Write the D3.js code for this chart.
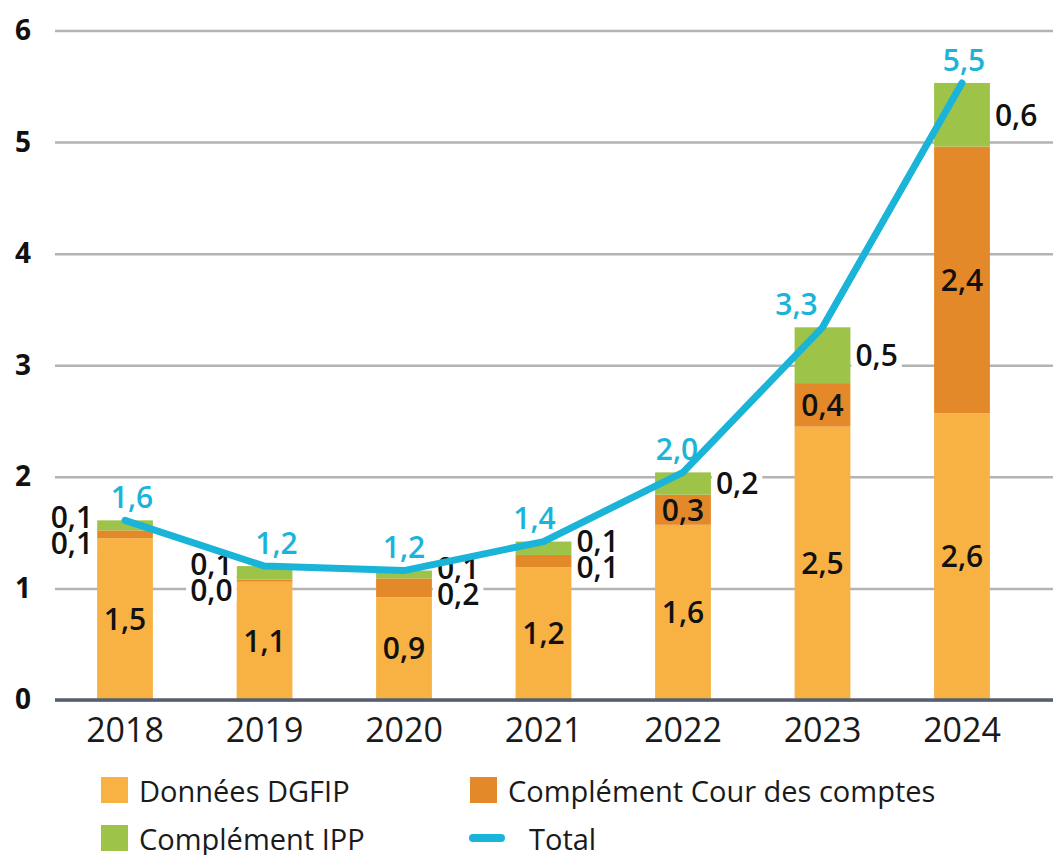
<!DOCTYPE html>
<meta charset="utf-8">
<script src="https://cdnjs.cloudflare.com/ajax/libs/d3/7.8.5/d3.min.js"></script>
<style>
  body { margin: 0; background: #fff; }
  svg, svg text { font-family: "Open Sans", "Noto Sans", sans-serif; }
  svg { display: block; }
</style>
<div id="chart"></div>
<script>
// data
const years = ["2018", "2019", "2020", "2021", "2022", "2023", "2024"];
const dgfip = [1.45, 1.06, 0.92, 1.19, 1.57, 2.45, 2.57];
const cour  = [0.07, 0.02, 0.17, 0.11, 0.27, 0.39, 2.39];
const ipp   = [0.09, 0.12, 0.07, 0.12, 0.20, 0.50, 0.57];
const totals = [1.61, 1.20, 1.16, 1.42, 2.04, 3.34, 5.53];

const dgfipLabels = ["1,5", "1,1", "0,9", "1,2", "1,6", "2,5", "2,6"];
const courLabels  = ["0,1", "0,0", "0,2", "0,1", "0,3", "0,4", "2,4"];
const ippLabels   = ["0,1", "0,1", "0,1", "0,1", "0,2", "0,5", "0,6"];
const totalLabels = ["1,6", "1,2", "1,2", "1,4", "2,0", "3,3", "5,5"];

const yTicks = [0, 1, 2, 3, 4, 5, 6];

// label layout: side of the small labels, horizontal nudge of the total labels
const labelSide = ["left", "left", "right", "right", "right", "right", "right"];
const totalNudge = [7, 12, 0, -9, -6, -26, 2];

const colors = { dgfip: "#f7b243", cour: "#e4892a", ipp: "#9dc349", total: "#1bb4d9" };

const W = 1053, H = 855;
const plotLeft = 55, plotRight = 1053, plotTop = 30.5, plotBottom = 700;

const svg = d3.select("#chart").append("svg")
  .attr("width", W).attr("height", H);

const x = d3.scaleBand()
  .domain(years)
  .range([55.25, 1031.75])
  .paddingInner(0.6)
  .paddingOuter(0.3);

const y = d3.scaleLinear().domain([0, 6]).range([plotBottom, plotTop]);

// gridlines + y labels
const yAxis = svg.append("g")
  .attr("transform", `translate(${plotLeft},0)`)
  .call(d3.axisLeft(y).tickValues(yTicks).tickSize(-(plotRight - plotLeft)).tickPadding(24).tickFormat(d3.format("d")));
yAxis.attr("font-family", null);
yAxis.select(".domain").remove();
yAxis.selectAll(".tick line").attr("stroke", "#b3b3b3").attr("stroke-width", 2.5);
yAxis.selectAll(".tick text")
  .attr("fill", "#111").style("font-size", "28px").style("font-weight", 700);

// stacked rows
const rows = years.map((yr, i) => ({
  year: yr, i,
  segs: [
    { key: "dgfip", y0: 0, y1: dgfip[i], label: dgfipLabels[i] },
    { key: "cour", y0: dgfip[i], y1: dgfip[i] + cour[i], label: courLabels[i] },
    { key: "ipp", y0: dgfip[i] + cour[i], y1: dgfip[i] + cour[i] + ipp[i], label: ippLabels[i] }
  ]
}));

const bars = svg.append("g");
rows.forEach(r => {
  bars.selectAll(null)
    .data(r.segs)
    .enter().append("rect")
      .attr("x", x(r.year))
      .attr("width", x.bandwidth())
      .attr("y", d => y(d.y1))
      .attr("height", d => y(d.y0) - y(d.y1))
      .attr("fill", d => colors[d.key]);
});

// x axis
svg.append("line")
  .attr("x1", plotLeft).attr("x2", plotRight)
  .attr("y1", y(0)).attr("y2", y(0))
  .attr("stroke", "#565f6e").attr("stroke-width", 3.5);

const xAxis = svg.append("g")
  .attr("transform", `translate(0,${y(0)})`)
  .call(d3.axisBottom(x).tickSize(0).tickPadding(18));
xAxis.attr("font-family", null);
xAxis.select(".domain").remove();
xAxis.selectAll(".tick text")
  .attr("fill", "#1a1a1a").style("font-size", "34px").style("font-weight", 400);

// value labels
const fs = 30;
const labels = svg.append("g")
  .style("font-size", fs + "px").style("font-weight", 600).attr("fill", "#111");

rows.forEach(r => {
  const cx = x(r.year) + x.bandwidth() / 2;
  const outside = [];
  r.segs.forEach(s => {
    const h = y(s.y0) - y(s.y1);
    const mid = (y(s.y0) + y(s.y1)) / 2;
    if (s.key === "dgfip" || (s.key === "cour" && h > 25)) {
      labels.append("text")
        .attr("x", cx).attr("y", mid + 0.36 * fs)
        .attr("text-anchor", "middle")
        .text(s.label);
    } else {
      outside.push({ label: s.label, mid });
    }
  });
  // spread stacked small labels so they do not overlap
  if (outside.length === 2) {
    const m = (outside[0].mid + outside[1].mid) / 2;
    outside[0].pos = m + 13;
    outside[1].pos = m - 13;
  } else {
    outside.forEach(o => o.pos = o.mid);
  }
  const side = labelSide[r.i];
  outside.forEach(o => {
    const g = labels.append("g");
    const t = g.append("text")
      .attr("x", side === "right" ? x(r.year) + x.bandwidth() + 5 : x(r.year) - 4)
      .attr("y", o.pos + 0.36 * fs)
      .attr("text-anchor", side === "right" ? "start" : "end")
      .text(o.label);
    const b = t.node().getBBox();
    g.insert("rect", "text")
      .attr("x", b.x - 4).attr("y", o.pos - 12)
      .attr("width", b.width + 8).attr("height", 24)
      .attr("fill", "#fff");
  });
});

// total line
const line = d3.line()
  .x((d, i) => x(years[i]) + x.bandwidth() / 2)
  .y(d => y(d));

svg.append("path")
  .datum(totals)
  .attr("d", line)
  .attr("fill", "none")
  .attr("stroke", colors.total)
  .attr("stroke-width", 7)
  .attr("stroke-linejoin", "round")
  .attr("stroke-linecap", "round");

svg.append("g")
  .style("font-size", fs + "px").style("font-weight", 600).attr("fill", colors.total)
  .selectAll("text")
  .data(totals)
  .enter().append("text")
    .attr("x", (d, i) => x(years[i]) + x.bandwidth() / 2 + totalNudge[i])
    .attr("y", d => y(d) - 23 + 0.36 * fs)
    .attr("text-anchor", "middle")
    .text((d, i) => totalLabels[i]);

// legend
const legend = svg.append("g").style("font-size", "29px").attr("fill", "#1a1a1a");
const legendItems = [
  { name: "Données DGFIP", key: "dgfip", lx: 101, ly: 777 },
  { name: "Complément Cour des comptes", key: "cour", lx: 470, ly: 777 },
  { name: "Complément IPP", key: "ipp", lx: 101, ly: 825 },
  { name: "Total", key: "total", lx: 470, ly: 825 }
];
legendItems.forEach(d => {
  if (d.key === "total") {
    legend.append("line")
      .attr("x1", d.lx + 3).attr("x2", d.lx + 31)
      .attr("y1", d.ly + 13).attr("y2", d.ly + 13)
      .attr("stroke", colors.total).attr("stroke-width", 8).attr("stroke-linecap", "round");
    legend.append("text").attr("x", d.lx + 59).attr("y", d.ly + 25).text(d.name);
  } else {
    legend.append("rect")
      .attr("x", d.lx).attr("y", d.ly)
      .attr("width", 27).attr("height", 26)
      .attr("fill", colors[d.key]);
    legend.append("text").attr("x", d.lx + 38).attr("y", d.ly + 25).text(d.name);
  }
});
</script>
